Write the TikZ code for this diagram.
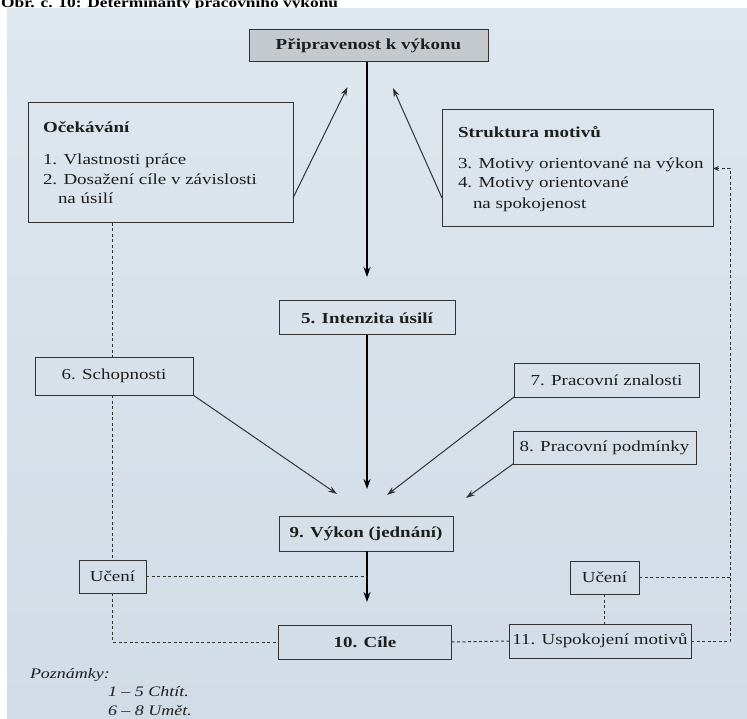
\documentclass[tikz,border=0pt]{standalone}
\usepackage{fontspec}
\setmainfont{Liberation Serif}[FakeStretch=1.24]
\usetikzlibrary{arrows.meta,calc}
\definecolor{phototop}{HTML}{DEE6EE}
\definecolor{photobot}{HTML}{D2DCE6}
\definecolor{ink}{HTML}{1E1E1E}
\definecolor{boxline}{HTML}{333333}
\definecolor{grayfill}{HTML}{C4C9CE}
\tikzset{
  box/.style={draw=boxline, line width=1pt, inner sep=0pt, outer sep=0pt, text=ink,
              font=\fontsize{15.3}{18}\selectfont},
  bbox/.style={box, font=\fontsize{15.3}{18}\selectfont\bfseries},
  txt/.style={inner sep=0pt, outer sep=0pt, text=ink, anchor=base west,
              font=\fontsize{15.3}{18}\selectfont},
  note/.style={inner sep=0pt, outer sep=0pt, text=ink, anchor=base west,
              font=\fontsize{14.5}{17}\selectfont\itshape},
  thickarrow/.style={line width=2.2pt, draw=black, -{Stealth[length=10pt,width=7pt]}},
  thinarrow/.style={line width=1pt, draw=boxline, -{Stealth[length=9pt,width=6pt]}},
  dline/.style={line width=1pt, draw=boxline, dash pattern=on 3pt off 2.5pt},
  darrow/.style={dline, -{Stealth[length=6pt,width=5pt]}},
}
\begin{document}
\begin{tikzpicture}[x=1pt,y=-1pt]
\useasboundingbox (0,0) rectangle (747,719);
\clip (0,0) rectangle (747,719);
\fill[white] (0,0) rectangle (747,719);
\node[inner sep=0pt, anchor=base west, font=\fontsize{14}{16}\selectfont\bfseries] (title) at (1,8) {Obr. č. 10: Determinanty pracovního výkonu};
\shade[top color=phototop, bottom color=photobot] (7,9) rectangle (747,719);

% boxes
\node[bbox, fill=grayfill, minimum width=239pt, minimum height=32pt] (prip) at (368.5,46) {Připravenost k výkonu};
\node[box, minimum width=265pt, minimum height=120pt] (ocek) at (160.5,163) {};
\node[box, minimum width=271pt, minimum height=117pt] (strukt) at (577.5,168.5) {};
\node[bbox, minimum width=176pt, minimum height=34pt] (int) at (367,318) {5. Intenzita úsilí};
\node[box, minimum width=158pt, minimum height=38pt] (schop) at (114,376) {6. Schopnosti};
\node[box, minimum width=185pt, minimum height=34pt] (znal) at (606.5,380) {7. Pracovní znalosti};
\node[box, minimum width=183pt, minimum height=33pt] (podm) at (604.5,447.5) {8. Pracovní podmínky};
\node[bbox, minimum width=174pt, minimum height=35pt] (vykon) at (366,533.5) {9. Výkon (jednání)};
\node[box, minimum width=67pt, minimum height=33pt] (uc1) at (112.5,576.5) {Učení};
\node[box, minimum width=69pt, minimum height=33pt] (uc2) at (604.5,577.5) {Učení};
\node[bbox, minimum width=173pt, minimum height=34pt] (cile) at (365,642) {10. Cíle};
\node[box, minimum width=182pt, minimum height=34pt] (usp) at (600,641) {11. Uspokojení motivů};

% texts in the two large boxes
\node[txt, font=\fontsize{15.3}{18}\selectfont\bfseries] (ocekT) at (43,133) {Očekávání};
\node[txt] (ocek1) at (43,165) {1. Vlastnosti práce};
\node[txt] (ocek2) at (43,185) {2. Dosažení cíle v závislosti};
\node[txt] (ocek3) at (58,204) {na úsilí};
\node[txt, font=\fontsize{15.3}{18}\selectfont\bfseries] (struktT) at (458,138) {Struktura motivů};
\node[txt] (strukt1) at (458,169) {3. Motivy orientované na výkon};
\node[txt] (strukt2) at (458,188) {4. Motivy orientované};
\node[txt] (strukt3) at (473,209) {na spokojenost};

% notes
\node[note] (pozn) at (30,678) {Poznámky:};
\node[note] (pozn1) at (108,696) {1 -- 5 Chtít.};
\node[note] (pozn2) at (108,715) {6 -- 8 Umět.};

% coordinates
\coordinate (tipOc) at ($(prip.south)+(-21,25)$);
\coordinate (tipSt) at ($(prip.south)+(24.5,26)$);
\coordinate (tipSch) at ($(vykon.north)+(-29,-22)$);
\coordinate (tipZn) at ($(vykon.north)+(21,-21)$);
\coordinate (tipPo) at ($(vykon.north)+(100,-18)$);
\coordinate (rc) at (730,168.5);

% central thick arrows
\draw[thickarrow, shorten >=24pt] (prip.south -| int.north) -- (int.north);
\draw[thickarrow, shorten >=27pt] (int.south) -- (int.south |- vykon.north);
\draw[thickarrow, shorten >=23pt] (int.south |- vykon.south) -- (int.south |- cile.north);

% thin diagonal arrows
\draw[thinarrow] ($(ocek.south east)+(0,-25)$) -- (tipOc);
\draw[thinarrow] ($(strukt.south west)+(0,-29)$) -- (tipSt);
\draw[thinarrow] (schop.south east) -- (tipSch);
\draw[thinarrow] (znal.south west) -- (tipZn);
\draw[thinarrow] (podm.south west) -- (tipPo);

% dashed connections
\draw[dline] (ocek.south -| uc1.north) -- (schop.north -| uc1.north);
\draw[dline] (schop.south -| uc1.north) -- (uc1.north);
\draw[dline] (uc1.east) -- (uc1.east -| int.south);
\draw[dline] (uc1.south) |- (cile.west);
\draw[dline] (cile.east) -- (usp.west);
\draw[dline] (uc2.south) -- (uc2.south |- usp.north);
\draw[dline] (uc2.east) -- (uc2.east -| rc);
\draw[darrow] (usp.east) -- (usp.east -| rc) -- (rc) -- (strukt.east);
\end{tikzpicture}
\end{document}
